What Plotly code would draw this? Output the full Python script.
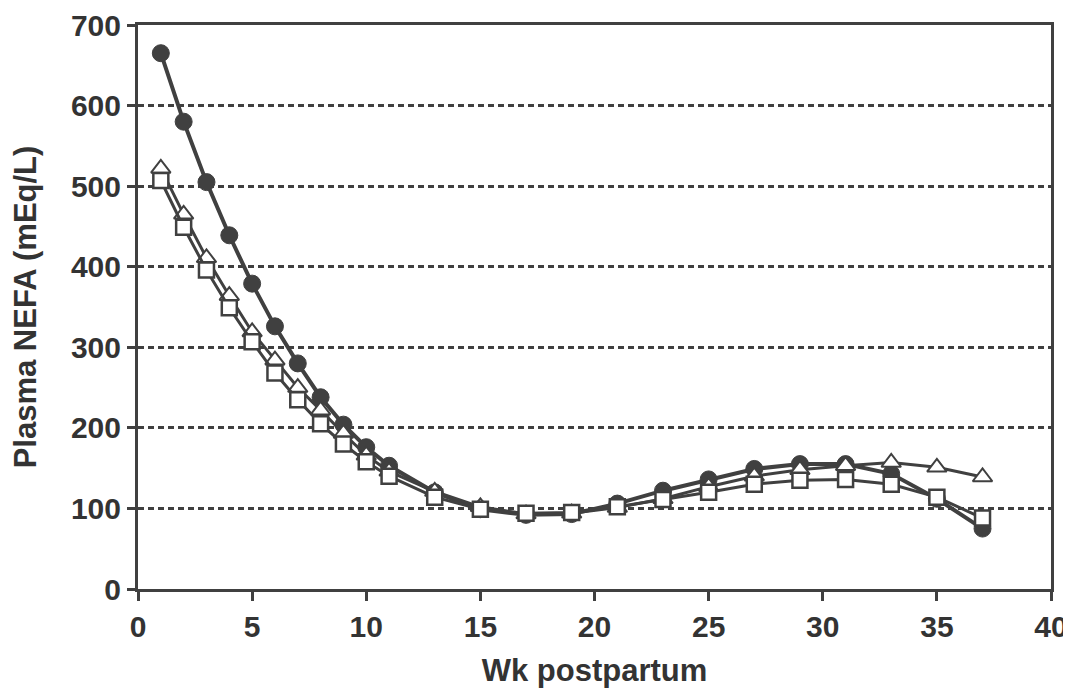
import plotly.graph_objects as go

weeks = [1, 2, 3, 4, 5, 6, 7, 8, 9, 10, 11, 13, 15, 17, 19, 21, 23, 25, 27, 29, 31, 33, 35, 37]
circles = [665, 580, 505, 439, 379, 326, 280, 238, 204, 176, 153, 120, 99, 92, 93, 106, 122, 136, 149, 155, 155, 143, 112, 75]
triangles = [522, 465, 411, 364, 319, 284, 250, 222, 193, 166, 146, 121, 102, 93, 94, 101, 112, 127, 140, 148, 153, 157, 151, 139]
squares = [507, 449, 396, 349, 307, 268, 235, 205, 180, 158, 140, 114, 99, 94, 95, 102, 111, 120, 130, 135, 136, 130, 114, 88]

LINE = "#404040"
TXT = "#333333"
fig = go.Figure()
fig.add_trace(go.Scatter(x=weeks, y=circles, mode="lines+markers",
                         line=dict(color=LINE, width=4),
                         marker=dict(symbol="circle", size=17, color=LINE,
                                     line=dict(color=LINE, width=1))))
fig.add_trace(go.Scatter(x=weeks, y=triangles, mode="lines+markers",
                         line=dict(color=LINE, width=3),
                         marker=dict(symbol="triangle-up", size=17, color="white",
                                     line=dict(color=LINE, width=2))))
fig.add_trace(go.Scatter(x=weeks, y=squares, mode="lines+markers",
                         line=dict(color=LINE, width=3),
                         marker=dict(symbol="square", size=15, color="white",
                                     line=dict(color=LINE, width=2.5))))

fig.update_layout(
    width=1071, height=700,
    margin=dict(l=130, r=28, t=17, b=119, autoexpand=False),
    paper_bgcolor="white", plot_bgcolor="white",
    showlegend=False,
    font=dict(family="Liberation Sans, Arial, sans-serif", size=30, color=TXT),
)
fig.update_xaxes(range=[0, 40], dtick=5, tick0=0, showgrid=False, zeroline=False,
                 automargin=False,
                 showline=True, linecolor=LINE, linewidth=3, mirror=True,
                 ticks="outside", ticklen=9, tickwidth=2.5, tickcolor=LINE,
                 tickfont=dict(family="Liberation Sans, Arial", size=30, color=TXT, weight="bold"),
                 title=dict(text="<b>Wk postpartum</b>",
                            font=dict(family="Liberation Sans, Arial", size=31, color=TXT),
                            standoff=18))
fig.update_yaxes(range=[0, 700], dtick=100, tick0=0, showgrid=True, gridcolor=LINE,
                 gridwidth=2.5, griddash="6px,4px", zeroline=False,
                 automargin=False,
                 showline=True, linecolor=LINE, linewidth=3, mirror=True,
                 ticks="outside", ticklen=8, tickwidth=2.5, tickcolor=LINE,
                 tickfont=dict(family="Liberation Sans, Arial", size=30, color=TXT, weight="bold"),
                 title=dict(text="<b>Plasma NEFA (mEq/L)</b>",
                            font=dict(family="Liberation Sans, Arial", size=31, color=TXT),
                            standoff=26))

fig.write_html("out.html")
